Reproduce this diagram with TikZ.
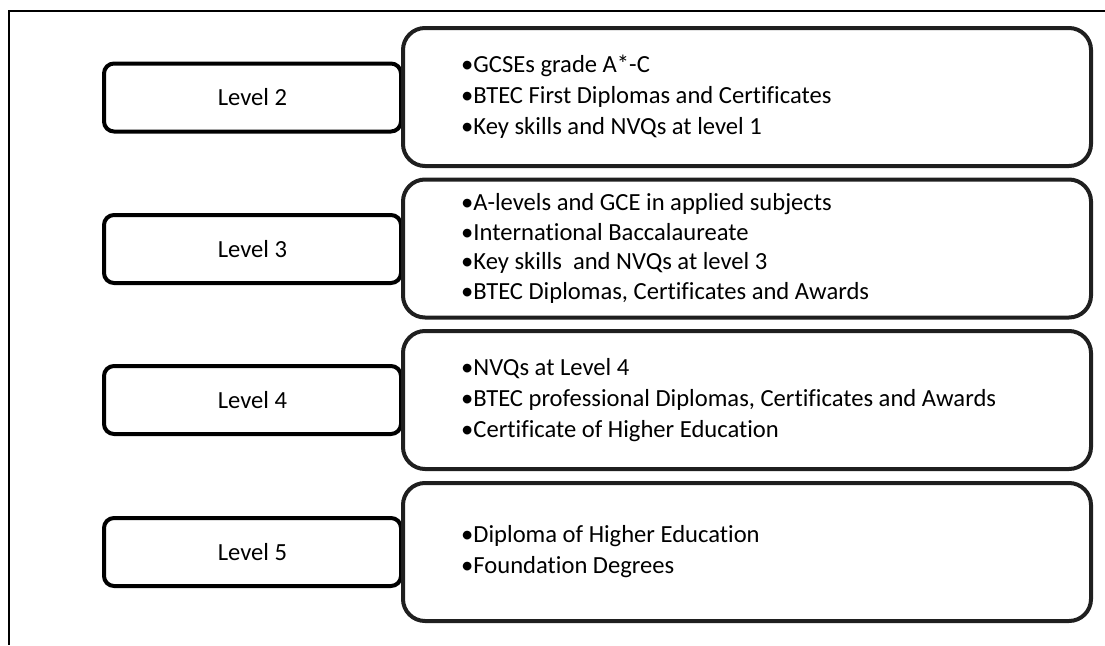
\documentclass[tikz,border=0pt]{standalone}
\usepackage{fontspec}
\setmainfont{Carlito}[Ligatures=NoCommon]
\usetikzlibrary{positioning}

\tikzset{
  levelbox/.style={draw=black, line width=4pt, rounded corners=10pt,
    minimum width=297pt, minimum height=68pt, inner sep=0pt,
    font=\fontsize{24.6pt}{31pt}\selectfont},
  itembox/.style={draw=black!88, line width=4pt, rounded corners=22pt,
    minimum width=688pt, minimum height=138pt, inner sep=0pt},
  itemlist/.style={align=left, anchor=west, inner sep=0pt,
    font=\fontsize{24.6pt}{31pt}\selectfont},
}

\begin{document}
\begin{tikzpicture}[x=1pt,y=-1pt]
                \useasboundingbox (0,0) rectangle (1105,645);
                \draw[line width=1.7pt] (1105,11) -- (9,11) -- (9,645);
                \node[levelbox] (lvl2) at (252.5,97.5) {Level 2};
                \node[levelbox] (lvl3) at (252.5,249) {Level 3};
                \node[levelbox] (lvl4) at (252.5,400) {Level 4};
                \node[levelbox] (lvl5) at (252.5,552) {Level 5};
                \node[itembox] (items2) at (747,97) {};
                \node[itembox] (items3) at (747,248.5) {};
                \node[itembox] (items4) at (747,400) {};
                \node[itembox] (items5) at (747,552) {};
                \node[itemlist] (list2) at ([xshift=60pt]items2.west)
                    {\textbullet GCSEs grade A*-C\\
                     \textbullet BTEC First Diplomas and Certificates\\
                     \textbullet Key skills and NVQs at level 1};
                \node[itemlist, font=\fontsize{24.6pt}{29.8pt}\selectfont]
                    (list3) at ([xshift=60pt]items3.west)
                    {\textbullet A-levels and GCE in applied subjects\\
                     \textbullet International Baccalaureate\\
                     \textbullet Key skills\ \ and NVQs at level 3\\
                     \textbullet BTEC Diplomas, Certificates and Awards};
                \node[itemlist] (list4) at ([xshift=60pt]items4.west)
                    {\textbullet NVQs at Level 4\\
                     \textbullet BTEC professional Diplomas, Certificates and Awards\\
                     \textbullet Certificate of Higher Education};
                \node[itemlist] (list5) at ([xshift=60pt]items5.west)
                    {\textbullet Diploma of Higher Education\\
                     \textbullet Foundation Degrees};
\end{tikzpicture}
\end{document}
